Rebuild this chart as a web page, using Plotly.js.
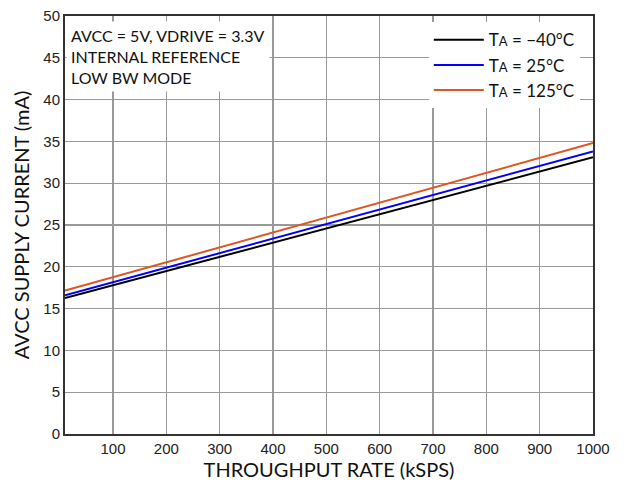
<!DOCTYPE html>
<html><head><meta charset="utf-8">
<script src="https://cdn.plot.ly/plotly-3.0.1.min.js"></script>
<style>html,body{margin:0;padding:0;background:#fff}#chart{width:624px;height:482px}</style>
</head><body><div id="chart"></div>
<script>
const throughput = [10, 500, 1000];
const currentM40 = [16.25, 24.6, 33.1];
const current25 = [16.6, 25.1, 33.8];
const current125 = [17.15, 25.9, 34.8];
const seriesNames = ["T<span style='font-size:13px'>A</span> = −40°C", "T<span style='font-size:13px'>A</span> = 25°C", "T<span style='font-size:13px'>A</span> = 125°C"];
const seriesColors = ["#000000", "#0000ff", "#e0541f"];
const xTicks = [100,200,300,400,500,600,700,800,900,1000];
const yTicks = [0,5,10,15,20,25,30,35,40,45,50];
const noteLines = ["AVCC = 5V, VDRIVE = 3.3V", "INTERNAL REFERENCE", "LOW BW MODE"];

const ys = [currentM40, current25, current125];
const traces = ys.map((y, i) => ({
  x: throughput, y: y, type: 'scatter', mode: 'lines', name: seriesNames[i],
  legendgroup: 'g' + i,
  line: {color: seriesColors[i], width: 2}
}));

const axisCommon = {
  showline: true, mirror: true, linewidth: 2, linecolor: '#333',
  showgrid: true, gridcolor: '#999', gridwidth: 1.3, ticks: '', zeroline: false,
  tickfont: {family: 'Liberation Sans, Arial', size: 15, color: '#222'}
};

const layout = {
  width: 624, height: 482,
  margin: {l: 65, r: 31, t: 16, b: 48},
  paper_bgcolor: '#fff', plot_bgcolor: '#fff',
  showlegend: true,
  legend: {x: 0.975, xanchor: 'right', y: 0.985, yanchor: 'top', bgcolor: '#fff',
    bordercolor: 'rgba(0,0,0,0)', borderwidth: 0, tracegroupgap: 0, itemwidth: 50,
    font: {family: 'Lato', size: 17, color: '#111'}},
  xaxis: Object.assign({}, axisCommon, {range: [10, 1000], tickvals: xTicks, ticktext: xTicks.map(String),
    title: {text: 'THROUGHPUT RATE (kSPS)', font: {family: 'Lato', size: 20, color: '#111'}, standoff: 4}}),
  yaxis: Object.assign({}, axisCommon, {range: [0, 50], tickvals: yTicks, ticktext: yTicks.map(String),
    title: {text: 'AVCC SUPPLY CURRENT (mA)', font: {family: 'Lato', size: 20, color: '#111'}, standoff: 8}}),
  annotations: [{
    xref: 'paper', yref: 'paper', x: 0, y: 1, xanchor: 'left', yanchor: 'top',
    text: noteLines.join('<br>'), showarrow: false, align: 'left',
    bgcolor: '#fff', borderpad: 4, xshift: 1, yshift: -5,
    font: {family: 'Lato', size: 16, color: '#111'}
  }]
};
Plotly.newPlot('chart', traces, layout, {displayModeBar: false, staticPlot: true});
</script></body></html>
